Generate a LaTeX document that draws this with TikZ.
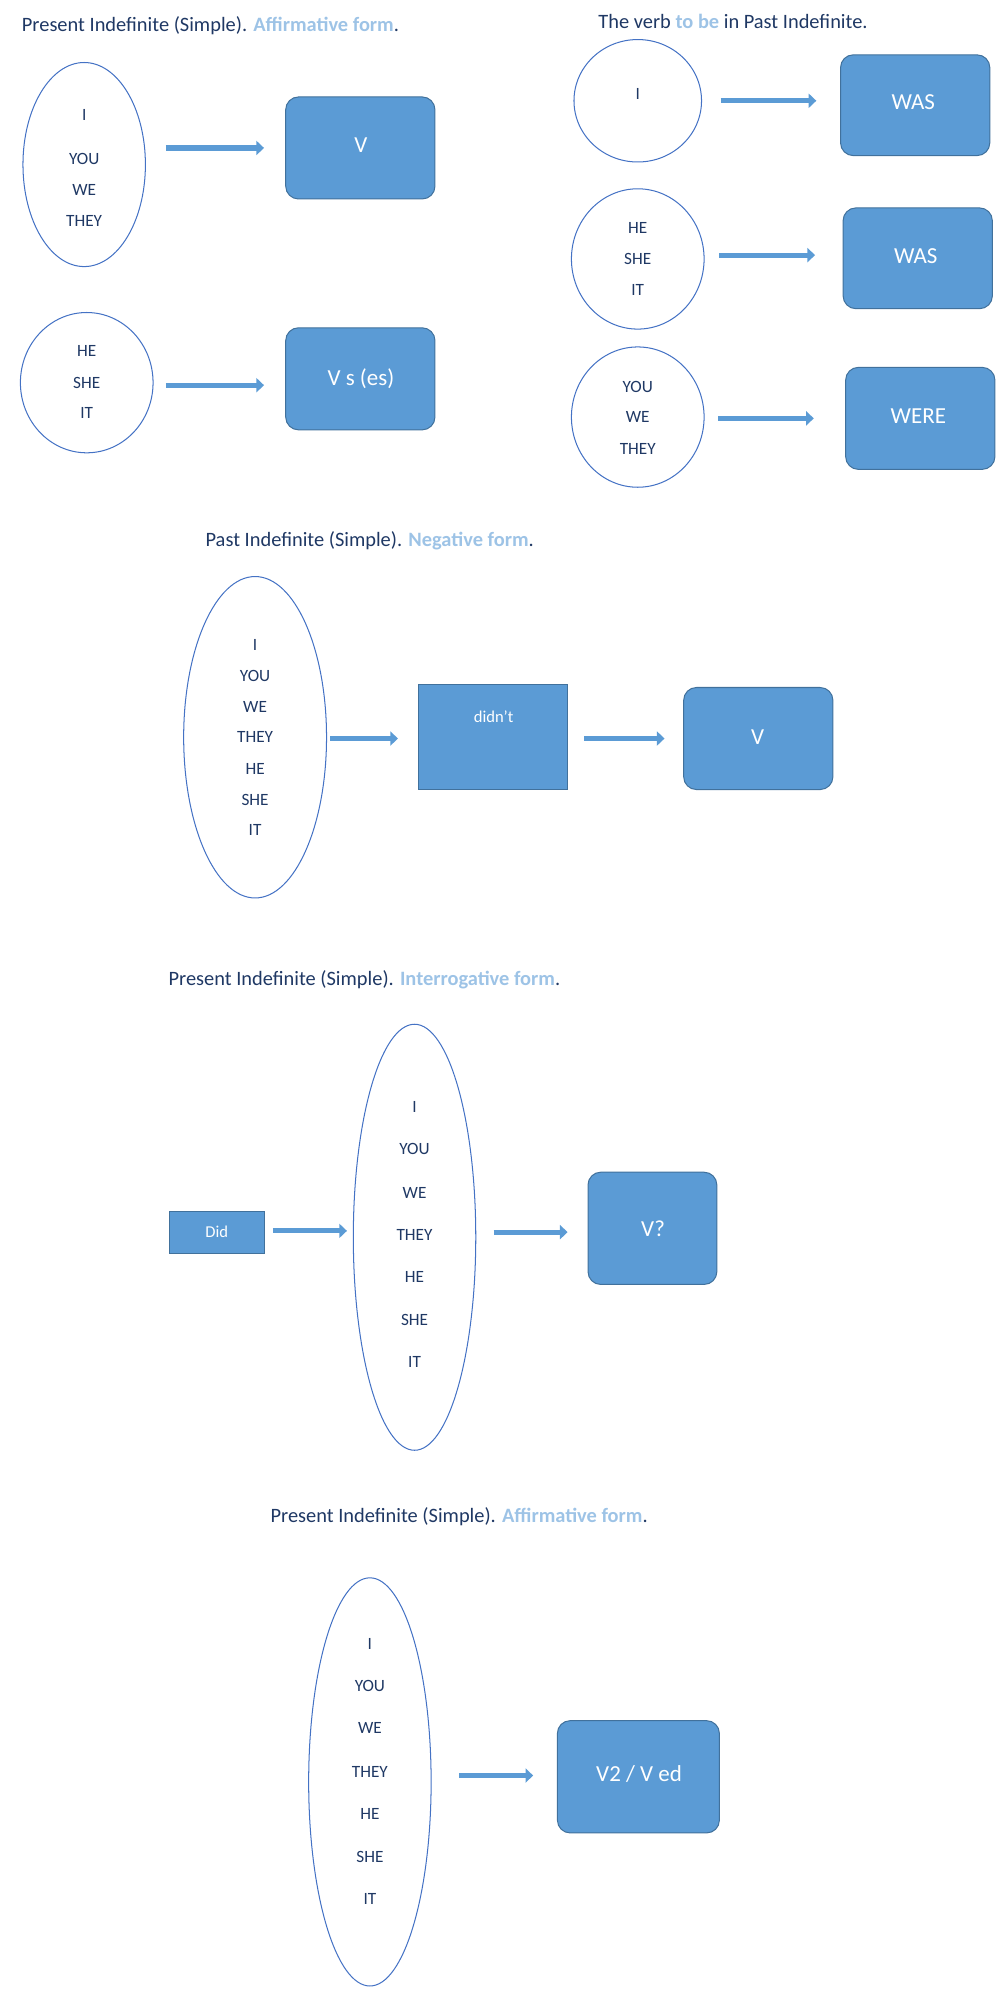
\documentclass[tikz,border=0pt]{standalone}
\usepackage{fontspec}
\setmainfont{Carlito}
\usetikzlibrary{arrows.meta}
\definecolor{navy}{HTML}{1F3864}
\definecolor{fillb}{HTML}{5B9BD5}
\definecolor{edgeb}{HTML}{41719C}
\definecolor{outl}{HTML}{9DC3E6}
\definecolor{ellb}{HTML}{4472C4}
\tikzset{
  ttl/.style={anchor=west,inner sep=0,text=navy,font=\fontsize{16}{19}\selectfont},
  ell/.style={draw=ellb,line width=0.8pt,ellipse,inner sep=0},
  pr/.style={text=navy,font=\fontsize{13.5}{16}\selectfont,inner sep=0},
  rbox/.style={draw=edgeb,fill=fillb,rounded corners=10pt,line width=0.8pt},
  sbox/.style={draw=edgeb,fill=fillb,line width=0.8pt},
  bt/.style={text=white,font=\fontsize{18}{21}\selectfont,inner sep=0},
  st/.style={text=white,font=\fontsize{13}{16}\selectfont,inner sep=0},
  barrow/.style={draw=fillb,line width=4pt,-{Triangle[length=6pt,width=11pt]}},
}
\newcommand{\hl}[1]{\textcolor{outl}{\bfseries #1}}
\begin{document}
\begin{tikzpicture}[x=1pt,y=-1pt]
\useasboundingbox (0,0) rectangle (783,1568);
% Section 1
\node[ttl] (t1) at (17,20) {Present Indefinite (Simple). \hl{Affirmative form}.};
\draw[draw=ellb,line width=0.8pt] (66,129) ellipse [x radius=48,y radius=80];
\node[pr] (a1) at (66,90) {I};
\node[pr] (a2) at (66,125) {YOU};
\node[pr] (a3) at (66,149) {WE};
\node[pr] (a4) at (66,173) {THEY};
\coordinate (ar1s) at (130,116); \coordinate (ar1e) at (207,116);
\draw[barrow] (ar1s) -- (ar1e);
\draw[rbox] (224,76) rectangle (341,156);
\node[bt] (bV) at (283,114) {V};
\draw[draw=ellb,line width=0.8pt] (68,300) ellipse [x radius=52,y radius=55];
\node[pr] (b1) at (68,275) {HE};
\node[pr] (b2) at (68,300) {SHE};
\node[pr] (b3) at (68,324) {IT};
\coordinate (ar2s) at (130,302); \coordinate (ar2e) at (207,302);
\draw[barrow] (ar2s) -- (ar2e);
\draw[rbox] (224,257) rectangle (341,337);
\node[bt] (bVs) at (283,297) {V s (es)};
% Section 2
\node[ttl] (t2) at (469,17) {The verb \hl{to be} in Past Indefinite.};
\draw[draw=ellb,line width=0.8pt] (500,79) ellipse [x radius=50,y radius=48];
\node[pr] (c1) at (500,74) {I};
\coordinate (ar3s) at (565,79); \coordinate (ar3e) at (640,79);
\draw[barrow] (ar3s) -- (ar3e);
\draw[rbox] (659,43) rectangle (776,122);
\node[bt] (bW1) at (716,80) {WAS};
\draw[draw=ellb,line width=0.8pt] (500,203) ellipse [x radius=52,y radius=55];
\node[pr] (d1) at (500,179) {HE};
\node[pr] (d2) at (500,203) {SHE};
\node[pr] (d3) at (500,227) {IT};
\coordinate (ar4s) at (564,200); \coordinate (ar4e) at (639,200);
\draw[barrow] (ar4s) -- (ar4e);
\draw[rbox] (661,163) rectangle (778,242);
\node[bt] (bW2) at (718,201) {WAS};
\draw[draw=ellb,line width=0.8pt] (500,327) ellipse [x radius=52,y radius=55];
\node[pr] (e1) at (500,303) {YOU};
\node[pr] (e2) at (500,327) {WE};
\node[pr] (e3) at (500,352) {THEY};
\coordinate (ar5s) at (563,328); \coordinate (ar5e) at (638,328);
\draw[barrow] (ar5s) -- (ar5e);
\draw[rbox] (663,288) rectangle (780,368);
\node[bt] (bW3) at (720,326) {WERE};
% Section 3
\node[ttl] (t3) at (161,424) {Past Indefinite (Simple). \hl{Negative form}.};
\draw[draw=ellb,line width=0.8pt] (200,578) ellipse [x radius=56,y radius=126];
\foreach \t/\yy/\n in {I/506/1,YOU/530/2,WE/554/3,THEY/578/4,HE/603/5,SHE/627/6,IT/651/7}
  \node[pr] (f\n) at (200,\yy) {\t};
\coordinate (ar6s) at (259,579); \coordinate (ar6e) at (312,579);
\draw[barrow] (ar6s) -- (ar6e);
\draw[sbox] (328,537) rectangle (445,619);
\node[st] (dnt) at (387,562) {didn’t};
\coordinate (ar7s) at (458,579); \coordinate (ar7e) at (521,579);
\draw[barrow] (ar7s) -- (ar7e);
\draw[rbox] (536,539) rectangle (653,619);
\node[bt] (bV3) at (594,578) {V};
% Section 4
\node[ttl] (t4) at (132,768) {Present Indefinite (Simple). \hl{Interrogative form}.};
\draw[sbox] (133,950) rectangle (207,983);
\node[st] (did) at (170,966) {Did};
\coordinate (ar8s) at (214,965); \coordinate (ar8e) at (272,965);
\draw[barrow] (ar8s) -- (ar8e);
\draw[draw=ellb,line width=0.8pt] (325,970) ellipse [x radius=48,y radius=167];
\foreach \t/\yy/\n in {I/868/1,YOU/901/2,WE/935/3,THEY/968/4,HE/1001/5,SHE/1035/6,IT/1068/7}
  \node[pr] (g\n) at (325,\yy) {\t};
\coordinate (ar9s) at (387,966); \coordinate (ar9e) at (445,966);
\draw[barrow] (ar9s) -- (ar9e);
\draw[rbox] (461,919) rectangle (562,1007);
\node[bt] (bVq) at (512,963) {V?};
% Section 5
\node[ttl] (t5) at (212,1189) {Present Indefinite (Simple). \hl{Affirmative form}.};
\draw[draw=ellb,line width=0.8pt] (290,1397) ellipse [x radius=48,y radius=160];
\foreach \t/\yy/\n in {I/1289/1,YOU/1322/2,WE/1355/3,THEY/1389/4,HE/1422/5,SHE/1456/6,IT/1489/7}
  \node[pr] (h\n) at (290,\yy) {\t};
\coordinate (ar10s) at (360,1392); \coordinate (ar10e) at (418,1392);
\draw[barrow] (ar10s) -- (ar10e);
\draw[rbox] (437,1349) rectangle (564,1437);
\node[bt] (bV2) at (501,1391) {V2 / V ed};
\end{tikzpicture}
\end{document}
